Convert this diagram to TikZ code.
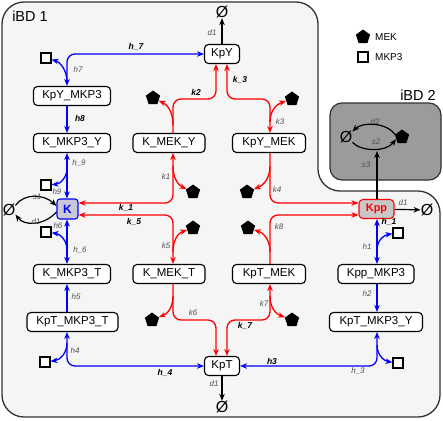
\documentclass[tikz,border=0pt]{standalone}
\usepackage{fontspec}
\setmainfont{Liberation Sans}
\usetikzlibrary{arrows.meta,shapes.geometric}
\definecolor{bgone}{RGB}{245,245,245}
\definecolor{bgtwo}{RGB}{155,155,155}
\definecolor{frame}{RGB}{50,50,50}
\definecolor{kfill}{RGB}{200,200,215}
\definecolor{kppfill}{RGB}{200,200,200}
\definecolor{lblgray}{RGB}{80,80,80}
\begin{document}
\begin{tikzpicture}[x=1pt,y=-1pt,>={Stealth[length=7pt,width=5.5pt]},
 spc/.style={draw=black,line width=1.1pt,rounded corners=4pt,fill=white,minimum height=19pt,inner sep=1pt,font=\fontsize{11.5}{11.5}\selectfont},
 knode/.style={draw=blue,line width=1.1pt,rounded corners=3pt,fill=kfill,minimum width=21pt,minimum height=20pt,inner sep=0pt,text=blue,font=\bfseries\fontsize{12}{12}\selectfont},
 kppnode/.style={draw=red,line width=1.1pt,rounded corners=4pt,fill=kppfill,minimum width=35pt,minimum height=19pt,inner sep=0pt,text=red,font=\bfseries\fontsize{11}{11}\selectfont},
 bl/.style={draw=blue,line width=1.3pt,rounded corners=8pt},
 rd/.style={draw=red,line width=1.3pt,rounded corners=8pt},
 bk/.style={draw=black,line width=1.2pt},
 lb/.style={font=\bfseries\itshape\fontsize{8.5}{8.5}\selectfont,inner sep=0pt},
 lg/.style={font=\itshape\fontsize{8}{8}\selectfont,text=lblgray,inner sep=0pt},
 pent/.style={regular polygon,regular polygon sides=5,fill=black,minimum size=15pt,inner sep=0pt},
 sqr/.style={draw=black,line width=1.1pt,fill=white,minimum size=10pt,inner sep=0pt},
 nul/.style={font=\fontsize{16}{16}\selectfont,inner sep=0pt},
 title/.style={font=\fontsize{14.5}{14.5}\selectfont,inner sep=0pt}
]
\useasboundingbox (0,0) rectangle (443,420);
% compartments
\draw[fill=bgone,draw=frame,line width=1.3pt,rounded corners=22pt] (2,2) -- (318,2) -- (318,191) -- (440,191) -- (440,417) -- (2,417) -- cycle;
\draw[fill=bgtwo,draw=frame,line width=1.2pt,rounded corners=12pt] (330,103) rectangle (441,180);
\node[title] (t1) at (30,16) {iBD 1};
\node[title] (t2) at (418,95) {iBD 2};
% legend
\node[pent] (lp) at (363,37) {};
\node[font=\fontsize{10}{10}\selectfont,anchor=west,inner sep=0pt] (lpt) at (375,37) {MEK};
\node[sqr] (ls) at (363,57) {};
\node[font=\fontsize{10}{10}\selectfont,anchor=west,inner sep=0pt] (lst) at (375,57) {MKP3};
% species
\node[spc,minimum width=35pt] (KpY) at (222,54) {KpY};
\node[spc,minimum width=77pt] (KpYMKP3) at (72,96) {KpY\_MKP3};
\node[spc,minimum width=77pt] (KMKP3Y) at (72,143) {K\_MKP3\_Y};
\node[spc,minimum width=72pt] (KMEKY) at (169,143) {K\_MEK\_Y};
\node[spc,minimum width=73pt] (KpYMEK) at (269,143) {KpY\_MEK};
\node[knode] (K) at (67.5,209) {K};
\node[kppnode] (Kpp) at (376.5,209) {Kpp};
\node[spc,minimum width=77pt] (KMKP3T) at (72,274) {K\_MKP3\_T};
\node[spc,minimum width=72pt] (KMEKT) at (169,274) {K\_MEK\_T};
\node[spc,minimum width=73pt] (KpTMEK) at (269,274) {KpT\_MEK};
\node[spc,minimum width=76pt] (KppMKP3) at (376,274) {Kpp\_MKP3};
\node[spc,minimum width=91pt] (KpTMKP3T) at (72.5,322) {KpT\_MKP3\_T};
\node[spc,minimum width=93pt] (KpTMKP3Y) at (376,322) {KpT\_MKP3\_Y};
\node[spc,minimum width=35pt] (KpT) at (222,366) {KpT};
% sinks
\node[nul] (n1) at (222,12) {Ø};
\node[nul] (n2) at (222,407) {Ø};
\node[nul] (n3) at (9,210) {Ø};
\node[nul] (n4) at (427,210) {Ø};
\node[nul] (n5) at (346,137) {Ø};
% MEK
\node[pent] (p2) at (153,98) {};
\node[pent] (p3) at (292,99) {};
\node[pent] (p1) at (193,192) {};
\node[pent] (p4) at (247,192) {};
\node[pent] (p5) at (193,228) {};
\node[pent] (p8) at (248,228) {};
\node[pent] (p6) at (152,320) {};
\node[pent] (p7) at (292,320) {};
\node[pent] (pI) at (402,137) {};
% MKP3
\node[sqr] (s7) at (46,58) {};
\node[sqr] (s9) at (46,185) {};
\node[sqr] (s6) at (46,232) {};
\node[sqr] (s4) at (45,362) {};
\node[sqr] (s3q) at (398,363) {};
\node[sqr] (s1q) at (398,233) {};
% guide coordinates
\coordinate (xL) at (67,0);
\coordinate (xR) at (377,0);
\coordinate (xA) at (173,0);
\coordinate (xB) at (270,0);
\coordinate (xC) at (216,0);
\coordinate (xD) at (227,0);
\coordinate (yT) at (0,99);
\coordinate (yB) at (0,320);
\coordinate (y1) at (0,203);
\coordinate (y5) at (0,215);
% blue reactions
\draw[bl,<->] (KpYMKP3.north -| xL) -- (xL |- KpY.west) -- (KpY.west);
\draw[bl,->] (KpYMKP3.south -| xL) -- (KMKP3Y.north -| xL);
\draw[bl,<->] (KMKP3Y.south -| xL) -- (K.north -| xL);
\draw[bl,<->] (K.south -| xL) -- (KMKP3T.north -| xL);
\draw[bl,->] (KpTMKP3T.north -| xL) -- (KMKP3T.south -| xL);
\draw[bl,<->] (KpTMKP3T.south -| xL) -- (xL |- KpT.west) -- (KpT.west);
\draw[bl,<->] (KpT.east) -- (xR |- KpT.east) -- (KpTMKP3Y.south -| xR);
\draw[bl,->] (KppMKP3.south -| xR) -- (KpTMKP3Y.north -| xR);
\draw[bl,<->] (Kpp.south -| xR) -- (KppMKP3.north -| xR);
\coordinate (b7) at (67,82);
\coordinate (b9) at (67,168);
\coordinate (b6) at (67,250);
\coordinate (b4) at (67,343);
\coordinate (b3) at (377,345);
\coordinate (b1) at (377,250);
\draw[bl,->] (b7) .. controls (67,70) and (60,62) .. (s7);
\draw[bl,->] (b9) .. controls (67,178) and (60,184) .. (s9);
\draw[bl,->] (b6) .. controls (67,240) and (60,234) .. (s6);
\draw[bl,->] (b4) .. controls (67,353) and (60,360) .. (s4);
\draw[bl,->] (b3) .. controls (377,355) and (384,361) .. (s3q);
\draw[bl,->] (b1) .. controls (377,240) and (384,235) .. (s1q);
% red reactions
\draw[rd,->] (KMEKY.north -| xA) -- (xA |- yT) -- (xC |- yT) -- (KpY.south -| xC);
\draw[rd,<->] (KpY.south -| xD) -- (xD |- yT) -- (xB |- yT) -- (KpYMEK.north -| xB);
\draw[rd,<->] (KMEKY.south -| xA) -- (xA |- y1) -- (K.east |- y1);
\draw[rd,<->] (K.east |- y5) -- (xA |- y5) -- (KMEKT.north -| xA);
\draw[rd,->] (KpYMEK.south -| xB) -- (xB |- y1) -- (Kpp.west |- y1);
\draw[rd,->] (KpTMEK.north -| xB) -- (xB |- y5) -- (Kpp.west |- y5);
\draw[rd,->] (KMEKT.south -| xA) -- (xA |- yB) -- (xC |- yB) -- (KpT.north -| xC);
\draw[rd,<->] (KpT.north -| xD) -- (xD |- yB) -- (xB |- yB) -- (KpTMEK.south -| xB);
\coordinate (c2) at (173,125);
\coordinate (c3) at (270,122);
\coordinate (c1) at (173,166);
\coordinate (c4) at (270,166);
\coordinate (c5) at (173,252);
\coordinate (c8) at (270,252);
\coordinate (c6) at (173,296);
\coordinate (c7) at (270,296);
\draw[rd,->] (c2) .. controls (173,110) and (166,104) .. (p2);
\draw[rd,->] (c3) .. controls (270,110) and (277,104) .. (p3);
\draw[rd,->] (c1) .. controls (173,178) and (178,185) .. (p1);
\draw[rd,->] (c4) .. controls (270,178) and (264,185) .. (p4);
\draw[rd,->] (c5) .. controls (173,240) and (178,233) .. (p5);
\draw[rd,->] (c8) .. controls (270,240) and (264,233) .. (p8);
\draw[rd,->] (c6) .. controls (173,308) and (167,314) .. (p6);
\draw[rd,->] (c7) .. controls (270,308) and (276,314) .. (p7);
% black reactions
\draw[bk,->] (KpY) -- (n1);
\draw[bk,->] (KpT) -- (n2);
\draw[bk,->] (Kpp) -- (n4);
\coordinate (s3end) at (377,151);
\draw[bk,->] (Kpp.north -| xR) -- (s3end);
\draw[bk,->] (n3.35) .. controls (24,193) and (44,194) .. (K.165);
\draw[bk,->] (K.195) .. controls (44,226) and (24,226) .. (n3.-35);
\draw[bk,->] (pI.160) .. controls (386,122) and (362,122) .. (n5.40);
\draw[bk,->] (n5.-40) .. controls (362,152) and (386,152) .. (pI.200);
% bold labels
\node[lb] (L1) at (136,47) {h\_7};
\node[lb] (L2) at (80,118) {h8};
\node[lb] (L3) at (196,92) {k2};
\node[lb] (L4) at (240,80) {k\_3};
\node[lb] (L5) at (126,208) {k\_1};
\node[lb] (L6) at (134,222) {k\_5};
\node[lb] (L7) at (389,222) {h\_1};
\node[lb] (L8) at (272,361) {h3};
\node[lb] (L9) at (165,373) {h\_4};
\node[lb] (L10) at (245,326) {k\_7};
% small labels
\node[lg] (g1) at (212,33) {d1};
\node[lg] (g2) at (78,70) {h7};
\node[lg] (g3) at (79,163) {h\_9};
\node[lg] (g4) at (57,192) {h9};
\node[lg] (g5) at (37,197) {s1};
\node[lg] (g6) at (36,222) {d1};
\node[lg] (g7) at (58,226) {h6};
\node[lg] (g8) at (80,250) {h\_6};
\node[lg] (g9) at (76,297) {h5};
\node[lg] (g10) at (75,351) {h4};
\node[lg] (g11) at (166,177) {k1};
\node[lg] (g12) at (280,122) {k3};
\node[lg] (g13) at (277,190) {k4};
\node[lg] (g14) at (166,246) {k5};
\node[lg] (g15) at (193,313) {k6};
\node[lg] (g16) at (264,304) {k7};
\node[lg] (g17) at (279,227) {k8};
\node[lg] (g18) at (367,247) {h1};
\node[lg] (g19) at (367,294) {h2};
\node[lg] (g20) at (358,371) {h\_3};
\node[lg] (g21) at (403,203) {d1};
\node[lg] (g22) at (214,384) {d1};
\node[lg] (g23) at (375,122) {d2};
\node[lg] (g24) at (376,142) {s2};
\node[lg] (g25) at (366,165) {s3};
\end{tikzpicture}
\end{document}
